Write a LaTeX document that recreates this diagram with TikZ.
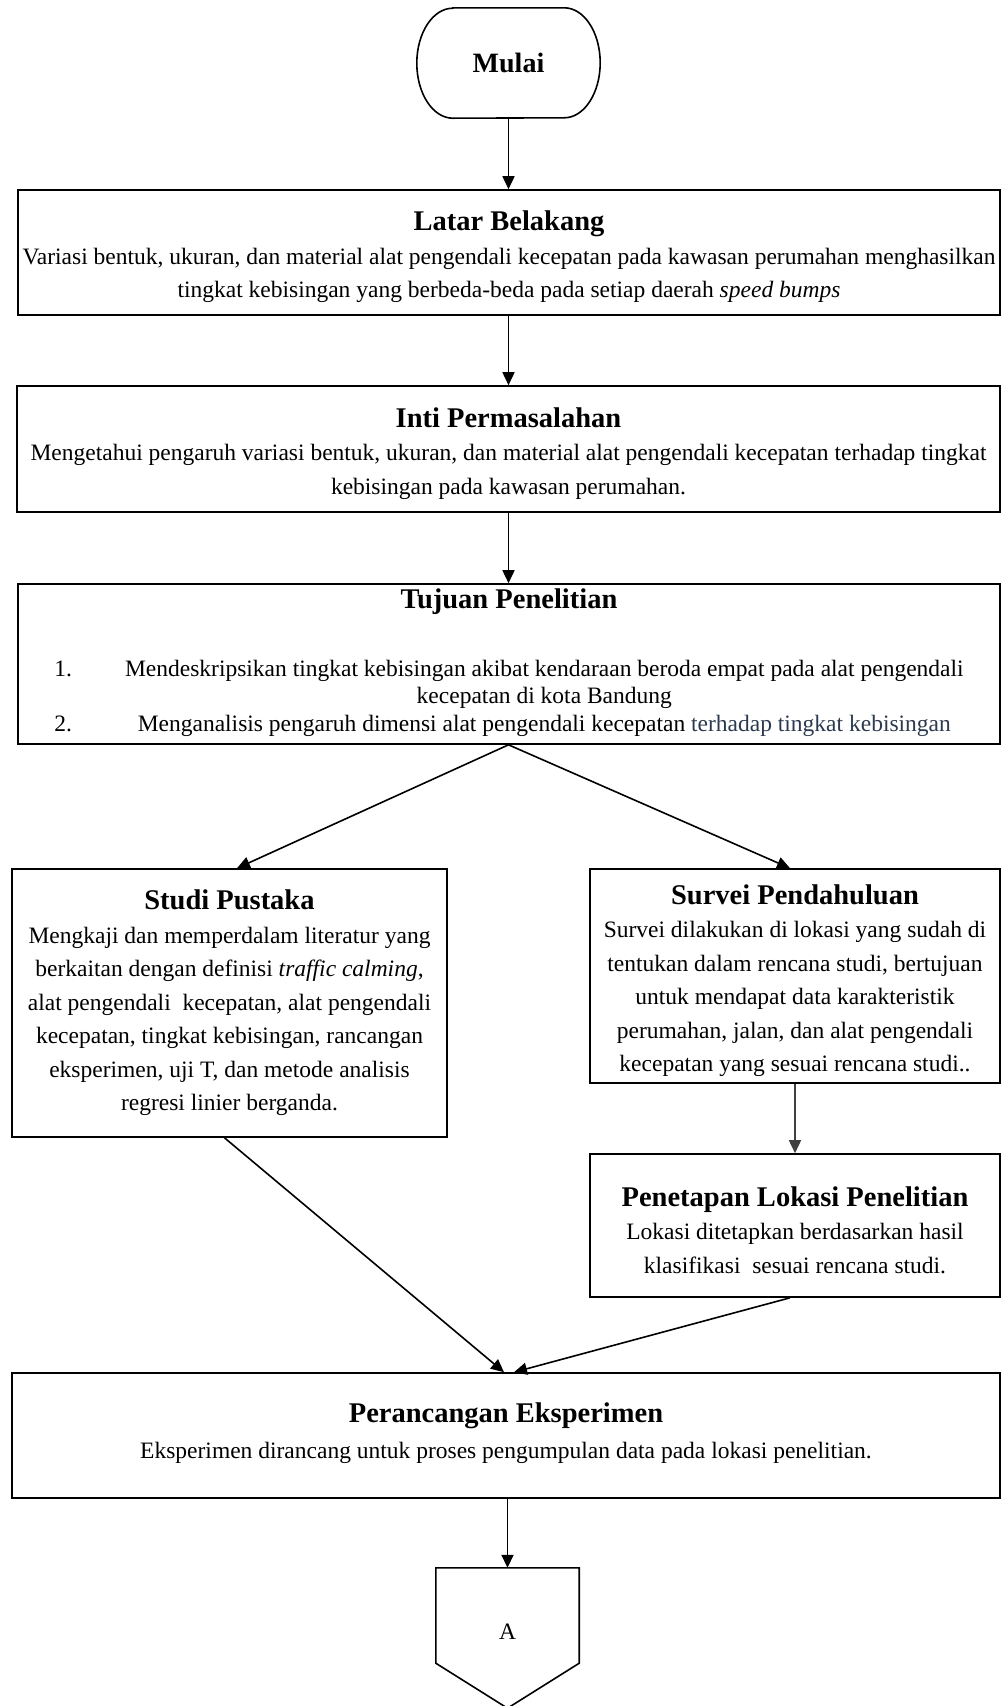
\documentclass[tikz,border=0pt]{standalone}
\usepackage{fontspec}
\setmainfont{Liberation Serif}
\usetikzlibrary{arrows.meta}
\definecolor{slatetext}{RGB}{44,58,80}
\tikzset{
 box/.style={draw=black, line width=1.6pt, inner sep=0pt, align=center, font=\fontsize{23.5}{33.5}\selectfont},
 conn/.style={draw=black, line width=1.6pt, -{Triangle[length=13pt,width=12pt]}},
 outline/.style={draw=black, line width=1.6pt},
}
\newcommand{\hd}[1]{{\fontsize{28.5}{33.5}\selectfont\bfseries #1}}
\newcommand{\hdx}[1]{{\fontsize{28.5}{33.5}\selectfont\bfseries\rule{0pt}{29pt}#1}}
\begin{document}
\begin{tikzpicture}[x=1pt,y=-1pt]
\useasboundingbox (0,0) rectangle (1001,1706);
% start
\node[minimum width=183pt, minimum height=110pt, inner sep=0pt, font=\fontsize{28}{33}\selectfont\bfseries] (mulai) at (508.5,63) {Mulai};
\draw[outline] ([xshift=36pt]mulai.north west) -- ([xshift=-36pt]mulai.north east)
  arc[start angle=90,end angle=-90,x radius=36pt,y radius=55pt]
  -- ([xshift=36pt]mulai.south west)
  arc[start angle=270,end angle=90,x radius=36pt,y radius=55pt] -- cycle;
% boxes
\node[box, minimum width=982pt, minimum height=125pt] (latar) at (509,252.5)
 {\hdx{Latar Belakang}\\
  Variasi bentuk, ukuran, dan material alat pengendali kecepatan pada kawasan perumahan menghasilkan\\
  tingkat kebisingan yang berbeda-beda pada setiap daerah \textit{speed bumps}};
\node[box, minimum width=983pt, minimum height=126pt] (inti) at (508.5,449)
 {\hdx{Inti Permasalahan}\\
  Mengetahui pengaruh variasi bentuk, ukuran, dan material alat pengendali kecepatan terhadap tingkat\\
  kebisingan pada kawasan perumahan.};
\node[box, minimum width=982pt, minimum height=160pt] (tujuan) at (509,664)
 {\hd{Tujuan Penelitian}\\[34pt]
  {\fontsize{23.5}{27.5}\selectfont
  \begin{tabular}[t]{@{}l@{\hspace{53pt}}c@{}}
  1. & Mendeskripsikan tingkat kebisingan akibat kendaraan beroda empat pada alat pengendali\\
     & kecepatan di kota Bandung\\
  2. & Menganalisis pengaruh dimensi alat pengendali kecepatan {\color{slatetext}terhadap tingkat kebisingan}
  \end{tabular}}};
\node[box, minimum width=435pt, minimum height=268pt] (studi) at (229.5,1003)
 {\hd{Studi Pustaka}\\
  Mengkaji dan memperdalam literatur yang\\
  berkaitan dengan definisi \textit{traffic calming},\\
  alat pengendali\ \ kecepatan, alat pengendali\\
  kecepatan, tingkat kebisingan, rancangan\\
  eksperimen, uji T, dan metode analisis\\
  regresi linier berganda.};
\node[box, minimum width=410pt, minimum height=214pt] (survei) at (795,976)
 {\hdx{Survei Pendahuluan}\\
  Survei dilakukan di lokasi yang sudah di\\
  tentukan dalam rencana studi, bertujuan\\
  untuk mendapat data karakteristik\\
  perumahan, jalan, dan alat pengendali\\
  kecepatan yang sesuai rencana studi..};
\node[box, minimum width=410pt, minimum height=143pt] (penetapan) at (795,1225.5)
 {\hdx{Penetapan Lokasi Penelitian}\\
  Lokasi ditetapkan berdasarkan hasil\\
  klasifikasi\ \ sesuai rencana studi.};
\node[box, minimum width=988pt, minimum height=125pt] (rancang) at (506,1435.5)
 {\hd{Perancangan Eksperimen}\\[3pt]
  Eksperimen dirancang untuk proses pengumpulan data pada lokasi penelitian.\rule[-10pt]{0pt}{10pt}};
% off-page connector
\node[minimum width=143pt, minimum height=128pt, inner sep=0pt, font=\fontsize{23.5}{28}\selectfont] (apage) at (507.5,1632) {A};
\draw[outline] (apage.north west) -- (apage.north east) -- ([yshift=33pt]apage.south east)
  -- ([yshift=-12pt]apage.south) -- ([yshift=33pt]apage.south west) -- cycle;
% connectors
\draw[conn] (mulai.south) -- (mulai.south |- latar.north);
\draw[conn] (mulai.south |- latar.south) -- (mulai.south |- inti.north);
\draw[conn] (mulai.south |- inti.south) -- (mulai.south |- tujuan.north);
\draw[conn] (mulai.south |- tujuan.south) -- ([xshift=7.5pt]studi.north);
\draw[conn] (mulai.south |- tujuan.south) -- ([xshift=-5pt]survei.north);
\draw[conn, draw=black!75] (survei.south) -- (penetapan.north);
\draw[conn] ([xshift=-5pt]studi.south) -- ([xshift=-2pt]rancang.north);
\draw[conn] ([xshift=-5pt]penetapan.south) -- ([xshift=8pt]rancang.north);
\draw[conn] (apage.north |- rancang.south) -- (apage.north);
\end{tikzpicture}
\end{document}
